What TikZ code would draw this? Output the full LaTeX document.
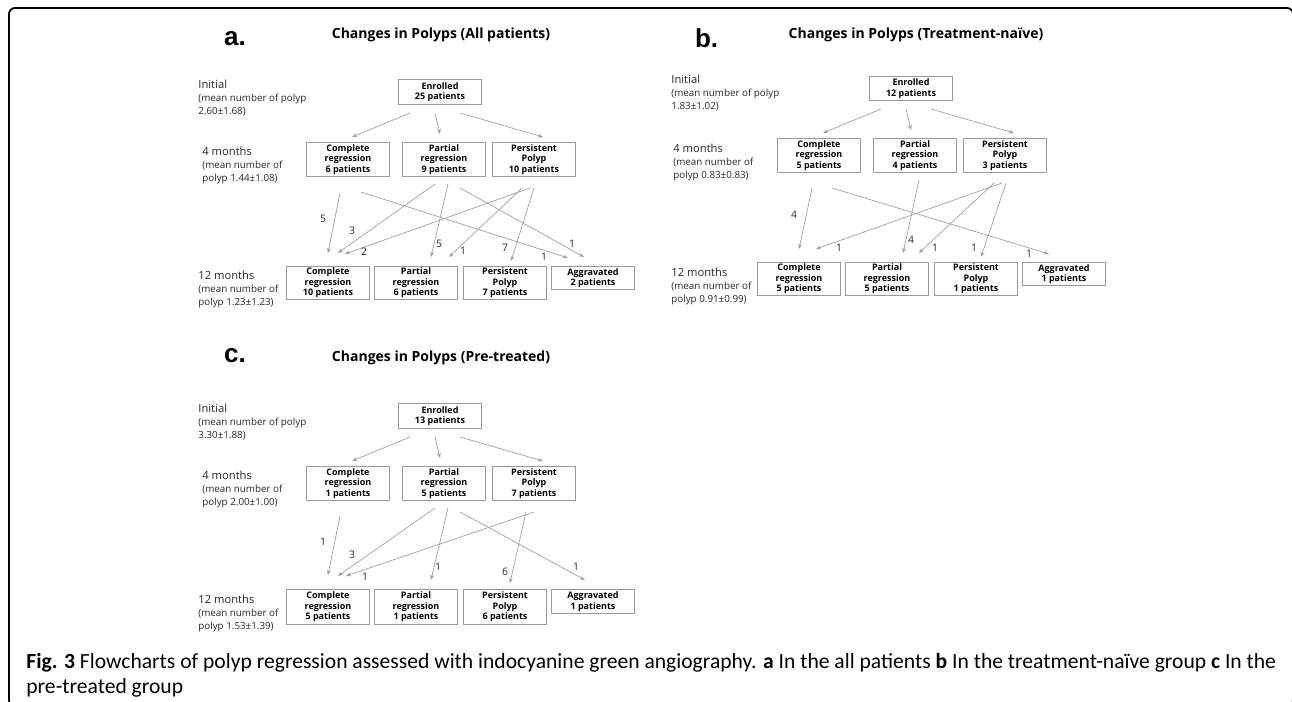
\documentclass[tikz,border=0pt]{standalone}
\usepackage{fontspec}
\setmainfont{Open Sans}
\newfontfamily\capfont{Carlito}
\newfontfamily\letterfont{Liberation Sans}
\usetikzlibrary{arrows.meta}

\newcommand{\tmline}[1]{{\fontsize{5.6}{6.5}\selectfont #1}}

\tikzset{
  box/.style={draw=gray!80, line width=0.5pt, anchor=north west, inner sep=0pt,
    minimum width=41.5pt, minimum height=17pt, align=center,
    font=\bfseries\fontsize{4.5}{5.3}\selectfont},
  arr/.style={draw=gray!75, line width=0.35pt, -{Stealth[length=2.6pt,width=2pt]}},
  num/.style={font=\fontsize{5.2}{6}\selectfont, text=black!85, inner sep=0pt},
  side/.style={anchor=north west, align=left, inner sep=0pt,
    font=\fontsize{4.9}{6.5}\selectfont, text=black!85},
  ttl/.style={anchor=base, font=\bfseries\fontsize{7}{8}\selectfont},
  panel/.style={anchor=base west, font=\letterfont\bfseries\fontsize{13}{13}\selectfont}
}

\begin{document}
\begin{tikzpicture}[x=0.5pt, y=-0.5pt]
\useasboundingbox (0,0) rectangle (1292,702);
\draw[line width=0.9pt, rounded corners=3pt] (9,8) rectangle (1293,706);

% panel a
\begin{scope}
\node[panel] (alet) at (217,45) {a.};
\node[ttl] (attl) at (441,38) {Changes in Polyps (All patients)};
\node[side] (at0) at (198,79.5) {\tmline{Initial}\\(mean number of polyp\\2.60±1.68)};
\node[side] (at4) at (202,146.5) {\tmline{4 months}\\(mean number of\\polyp 1.44±1.08)};
\node[side] (at12) at (198,270.5) {\tmline{12 months}\\(mean number of\\polyp 1.23±1.23)};
\node[box, minimum height=12.5pt] (aE) at (398,79) {Enrolled\\25 patients};
\node[box] (a4c) at (306,142) {Complete\\regression\\6 patients};
\node[box] (a4p) at (402,142) {Partial\\regression\\9 patients};
\node[box] (a4s) at (492,142) {Persistent\\Polyp\\10 patients};
\node[box, minimum height=16.5pt] (a12c) at (286,266) {Complete\\regression\\10 patients};
\node[box, minimum height=16.5pt] (a12p) at (374,266) {Partial\\regression\\6 patients};
\node[box, minimum height=16.5pt] (a12s) at (463,266) {Persistent\\Polyp\\7 patients};
\node[box, minimum height=11.5pt] (a12g) at (551,266) {Aggravated\\2 patients};
\draw[arr] ([shift={(-30,8)}]aE.south) -- ([shift={(4,-5)}]a4c.north);
\draw[arr] ([shift={(-5,8)}]aE.south) -- ([shift={(-4,-8)}]a4p.north);
\draw[arr] ([shift={(20,8)}]aE.south) -- ([shift={(9,-5)}]a4s.north);
\draw[arr] ([shift={(-8,16)}]a4c.south) -- ([shift={(0,-13)}]a12c.north);
\draw[arr] ([shift={(13,15)}]a4c.south) -- ([shift={(-25,-8)}]a12g.north);
\draw[arr] ([shift={(-9,7)}]a4p.south) -- ([shift={(10,-13)}]a12c.north);
\draw[arr] ([shift={(4,7)}]a4p.south) -- ([shift={(15,-9)}]a12p.north);
\draw[arr] ([shift={(16,11)}]a4p.south) -- ([shift={(-9,-9)}]a12g.north);
\draw[arr] ([shift={(-4,11)}]a4s.south) -- ([shift={(17,-12)}]a12c.north);
\draw[arr] ([shift={(-12,11)}]a4s.south) -- ([shift={(33,-9)}]a12p.north);
\draw[arr] ([shift={(0,11)}]a4s.south) -- ([shift={(6,-5)}]a12s.north);
\node[num] at (323,219) {5};
\node[num] at (544,257) {1};
\node[num] at (352,231) {3};
\node[num] at (439,244) {5};
\node[num] at (572,244) {1};
\node[num] at (364,252) {2};
\node[num] at (463,251) {1};
\node[num] at (505,248) {7};
\end{scope}

% panel b
\begin{scope}[shift={(471,-3)}]
\node[panel] (blet) at (217,50) {b.};
\node[ttl] (bttl) at (445,41) {Changes in Polyps (Treatment-naïve)};
\node[side] (bt0) at (200,77.5) {\tmline{Initial}\\(mean number of polyp\\1.83±1.02)};
\node[side] (bt4) at (202,146.5) {\tmline{4 months}\\(mean number of\\polyp 0.83±0.83)};
\node[side] (bt12) at (200,270.5) {\tmline{12 months}\\(mean number of\\polyp 0.91±0.99)};
\node[box, minimum height=12pt] (bE) at (398,79) {Enrolled\\12 patients};
\node[box] (b4c) at (306,141) {Complete\\regression\\5 patients};
\node[box] (b4p) at (402,141) {Partial\\regression\\4 patients};
\node[box] (b4s) at (492,141) {Persistent\\Polyp\\3 patients};
\node[box, minimum height=16.5pt] (b12c) at (286,265) {Complete\\regression\\5 patients};
\node[box, minimum height=16.5pt] (b12p) at (374,265) {Partial\\regression\\5 patients};
\node[box, minimum height=16.5pt] (b12s) at (463,265) {Persistent\\Polyp\\1 patients};
\node[box, minimum height=11.5pt] (b12g) at (551,265) {Aggravated\\1 patients};
\draw[arr] ([shift={(-30,8)}]bE.south) -- ([shift={(4,-5)}]b4c.north);
\draw[arr] ([shift={(-5,8)}]bE.south) -- ([shift={(-4,-8)}]b4p.north);
\draw[arr] ([shift={(20,8)}]bE.south) -- ([shift={(9,-5)}]b4s.north);
\draw[arr] ([shift={(-7,15)}]b4c.south) -- ([shift={(0,-13)}]b12c.north);
\draw[arr] ([shift={(13,15)}]b4c.south) -- ([shift={(-15,-8)}]b12g.north);
\draw[arr] ([shift={(4,7)}]b4p.south) -- ([shift={(16,-9)}]b12p.north);
\draw[arr] ([shift={(-3,10)}]b4s.south) -- ([shift={(17,-13)}]b12c.north);
\draw[arr] ([shift={(-11,10)}]b4s.south) -- ([shift={(32,-9)}]b12p.north);
\draw[arr] ([shift={(1,10)}]b4s.south) -- ([shift={(5,-5)}]b12s.north);
\node[num] at (323,218) {4};
\node[num] at (558,257) {1};
\node[num] at (440,243) {4};
\node[num] at (368,251) {1};
\node[num] at (464,251) {1};
\node[num] at (503,251) {1};
\end{scope}

% panel c
\begin{scope}[shift={(0,324)}]
\node[panel] (clet) at (217,38) {c.};
\node[ttl] (cttl) at (441,37) {Changes in Polyps (Pre-treated)};
\node[side] (ct0) at (198,79.5) {\tmline{Initial}\\(mean number of polyp\\3.30±1.88)};
\node[side] (ct4) at (202,146.5) {\tmline{4 months}\\(mean number of\\polyp 2.00±1.00)};
\node[side] (ct12) at (198,270.5) {\tmline{12 months}\\(mean number of\\polyp 1.53±1.39)};
\node[box, minimum height=12.5pt] (cE) at (398,79) {Enrolled\\13 patients};
\node[box] (c4c) at (306,142) {Complete\\regression\\1 patients};
\node[box] (c4p) at (402,142) {Partial\\regression\\5 patients};
\node[box] (c4s) at (492,142) {Persistent\\Polyp\\7 patients};
\node[box, minimum height=17.5pt] (c12c) at (286,265) {Complete\\regression\\5 patients};
\node[box, minimum height=17.5pt] (c12p) at (374,265) {Partial\\regression\\1 patients};
\node[box, minimum height=17.5pt] (c12s) at (463,265) {Persistent\\Polyp\\6 patients};
\node[box, minimum height=12pt] (c12g) at (551,265) {Aggravated\\1 patients};
\draw[arr] ([shift={(-30,8)}]cE.south) -- ([shift={(4,-5)}]c4c.north);
\draw[arr] ([shift={(-5,8)}]cE.south) -- ([shift={(-4,-8)}]c4p.north);
\draw[arr] ([shift={(20,8)}]cE.south) -- ([shift={(9,-5)}]c4s.north);
\draw[arr] ([shift={(-8,15)}]c4c.south) -- ([shift={(0,-14)}]c12c.north);
\draw[arr] ([shift={(-9,7)}]c4p.south) -- ([shift={(10,-13)}]c12c.north);
\draw[arr] ([shift={(4,7)}]c4p.south) -- ([shift={(15,-9)}]c12p.north);
\draw[arr] ([shift={(16,11)}]c4p.south) -- ([shift={(-8,-9)}]c12g.north);
\draw[arr] ([shift={(0,11)}]c4s.south) -- ([shift={(18,-13)}]c12c.north);
\draw[arr] ([shift={(-8,11)}]c4s.south) -- ([shift={(5,-6)}]c12s.north);
\node[num] at (323,218) {1};
\node[num] at (352,231) {3};
\node[num] at (438,243) {1};
\node[num] at (576,243) {1};
\node[num] at (365,253) {1};
\node[num] at (505,248) {6};
\end{scope}

\node[anchor=base west, align=left, inner sep=0pt,
  font=\capfont\fontsize{10.8}{12.5}\selectfont] (cap) at (26,693)
  {\textbf{Fig. 3} Flowcharts of polyp regression assessed with indocyanine green angiography. \textbf{a} In the all patients \textbf{b} In the treatment-naïve group \textbf{c} In the\\
   pre-treated group};
\end{tikzpicture}
\end{document}
